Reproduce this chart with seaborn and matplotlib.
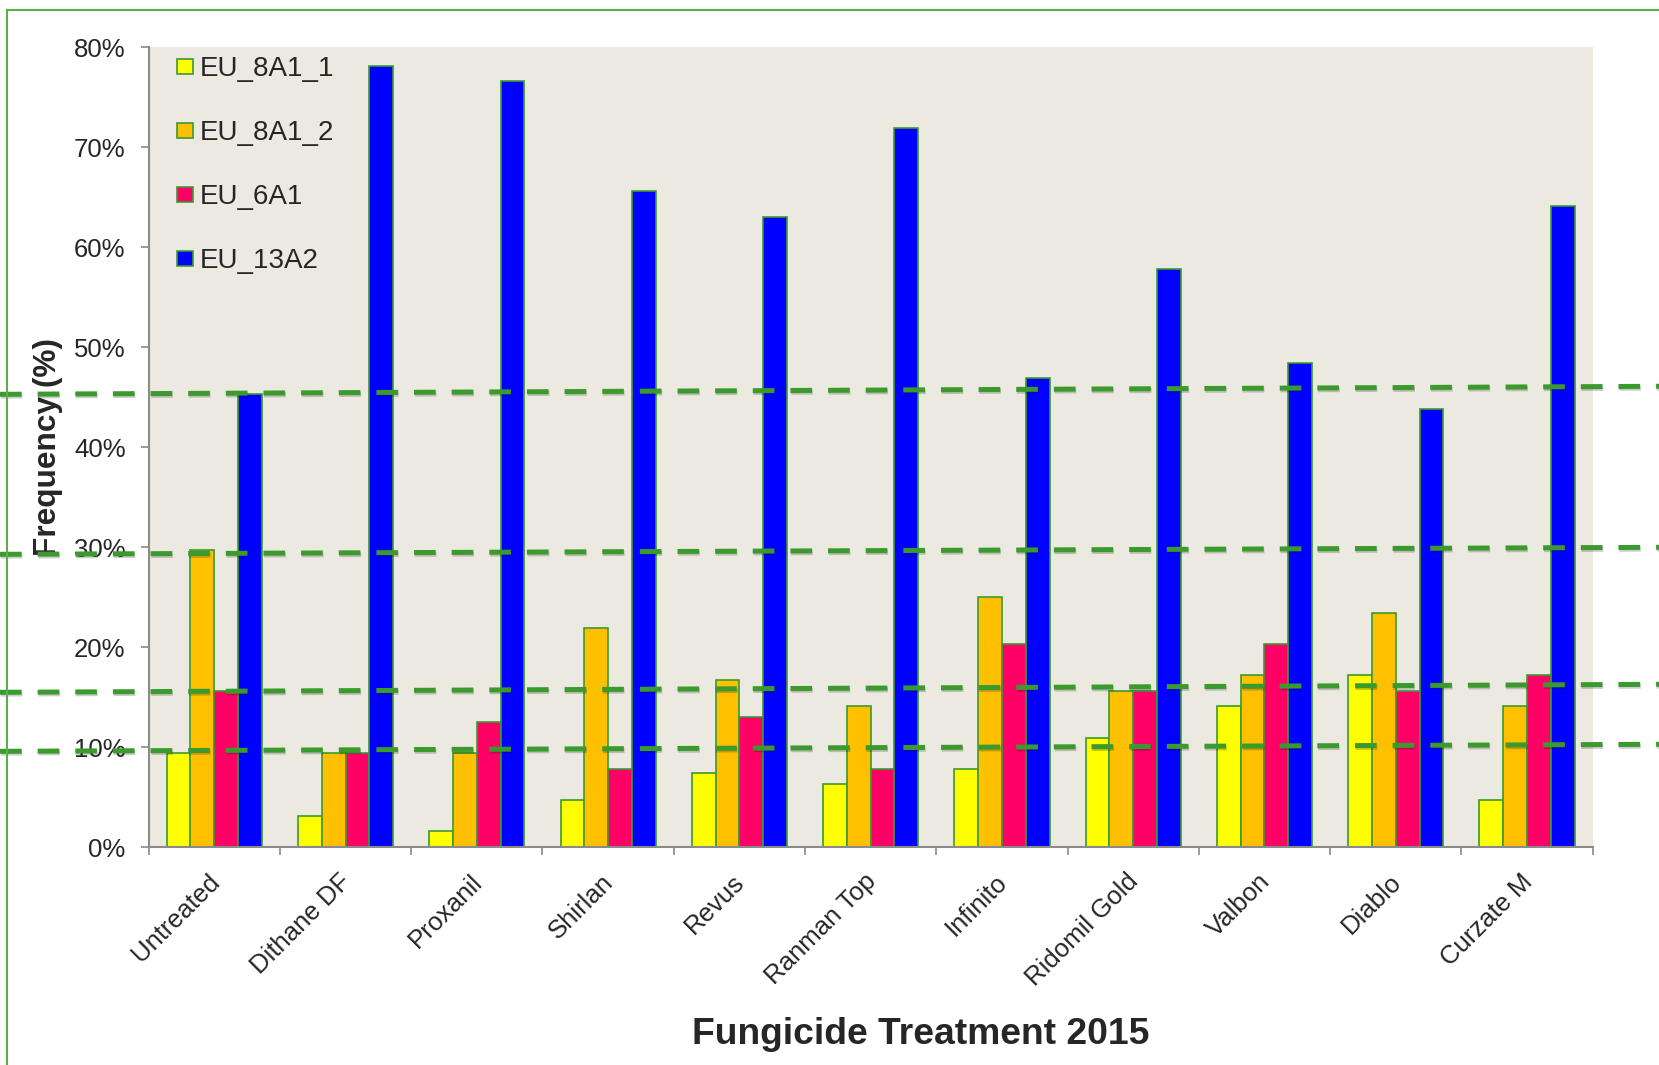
import matplotlib
matplotlib.use("Agg")
import matplotlib.pyplot as plt
import matplotlib.patheffects as pe
import matplotlib.transforms as mtransforms
from matplotlib.patches import Rectangle
from matplotlib.ticker import StrMethodFormatter
import numpy as np
import pandas as pd
import seaborn as sns

# fungicide treatments (x categories) and genotypes (legend)
treatments = ["Untreated", "Dithane DF", "Proxanil", "Shirlan", "Revus", "Ranman Top",
              "Infinito", "Ridomil Gold", "Valbon", "Diablo", "Curzate M"]
genotypes = ["EU_8A1_1", "EU_8A1_2", "EU_6A1", "EU_13A2"]

# frequency (%) of each genotype per treatment
eu_8a1_1 = [9.4, 3.1, 1.6, 4.7, 7.4, 6.3, 7.8, 10.9, 14.1, 17.2, 4.7]
eu_8a1_2 = [29.7, 9.4, 9.4, 21.9, 16.7, 14.1, 25.0, 15.6, 17.2, 23.4, 14.1]
eu_6a1 = [15.6, 9.4, 12.5, 7.8, 13.0, 7.8, 20.3, 15.6, 20.3, 15.6, 17.2]
eu_13a2 = [45.3, 78.1, 76.6, 65.6, 63.0, 71.9, 46.9, 57.8, 48.4, 43.8, 64.1]

# dashed green reference lines drawn over the chart (% at left / right figure edge)
ref_left = [45.3, 29.3, 15.5, 9.6]
ref_right = [46.1, 30.0, 16.3, 10.3]

colors = ["#FFFF00", "#FFC000", "#FF0066", "#0000FF"]
green = "#3B9A2E"

df = pd.DataFrame({
    "Treatment": treatments * 4,
    "Genotype": np.repeat(genotypes, len(treatments)),
    "Frequency": eu_8a1_1 + eu_8a1_2 + eu_6a1 + eu_13a2,
})

sns.set_style("ticks")
plt.rcParams['font.family'] = ['Liberation Sans', 'DejaVu Sans']

fig = plt.figure(figsize=(16.59, 10.65), dpi=100)
ax = fig.add_axes([0.0896, 0.2044, 0.8704, 0.7512])
ax.set_facecolor("#ECEAE0")

sns.barplot(data=df, x="Treatment", y="Frequency", hue="Genotype", palette=colors,
            width=0.725, saturation=1, edgecolor=green, linewidth=1.2, ax=ax)

ax.set_ylim(0, 80)
ax.set_yticks(range(0, 81, 10))
ax.yaxis.set_major_formatter(StrMethodFormatter("{x:.0f}%"))
ax.tick_params(axis="y", labelsize=18.5, length=5.5, width=1.2, color="#8A8A8A", pad=11)

ax.set_xticks(range(len(treatments)))
ax.set_xticklabels(treatments, rotation=45, ha="right", rotation_mode="anchor")
ax.set_xticks(np.arange(-0.5, len(treatments), 1), minor=True)
ax.tick_params(axis="x", which="major", length=0, pad=16, labelsize=18.5)
ax.tick_params(axis="x", which="minor", length=5.5, width=1.2, color="#8A8A8A")
offset = mtransforms.ScaledTranslation(-5 / 72, 0, fig.dpi_scale_trans)
for lab in ax.get_xticklabels():
    lab.set_transform(lab.get_transform() + offset)

for side in ["top", "right"]:
    ax.spines[side].set_visible(False)
for side in ["left", "bottom"]:
    ax.spines[side].set_color("#8A8A8A")
    ax.spines[side].set_linewidth(1.5)

ax.set_xlabel("Fungicide Treatment 2015", fontsize=26.8, fontweight="bold")
ax.xaxis.set_label_coords(0.535, -0.212)
ax.set_ylabel("Frequency (%)", fontsize=22.8, fontweight="bold")
ax.yaxis.set_label_coords(-0.0595, 0.5)

ax.legend(loc="upper left", bbox_to_anchor=(0.0195, 0.989), frameon=False, fontsize=20,
          handlelength=0.58, handleheight=0.45, handletextpad=0.25, labelspacing=1.37,
          borderpad=0, borderaxespad=0)

# dashed reference lines across the whole figure
plt.rcParams['lines.scale_dashes'] = False
trans = mtransforms.blended_transform_factory(fig.transFigure, ax.transData)
for y0, y1 in zip(ref_left, ref_right):
    ax.plot([0, 1], [y0, y1], transform=trans, clip_on=False, color=green, lw=3.6,
            dashes=(15.6, 11.5), dash_capstyle="butt", zorder=6,
            path_effects=[pe.SimpleLineShadow(offset=(0.5, -1.3), alpha=0.2),
                          pe.Normal()])
ax.set_xlim(-0.5, len(treatments) - 0.5)
ax.set_ylim(0, 80)

# green frame round the picture
fig.add_artist(Rectangle((7 / 1659, -0.5), 2, 0.5 + 1 - 10 / 1065, transform=fig.transFigure,
                         fill=False, edgecolor="#5AAE4C", lw=1.5))

fig.savefig("out.png", dpi=100)
